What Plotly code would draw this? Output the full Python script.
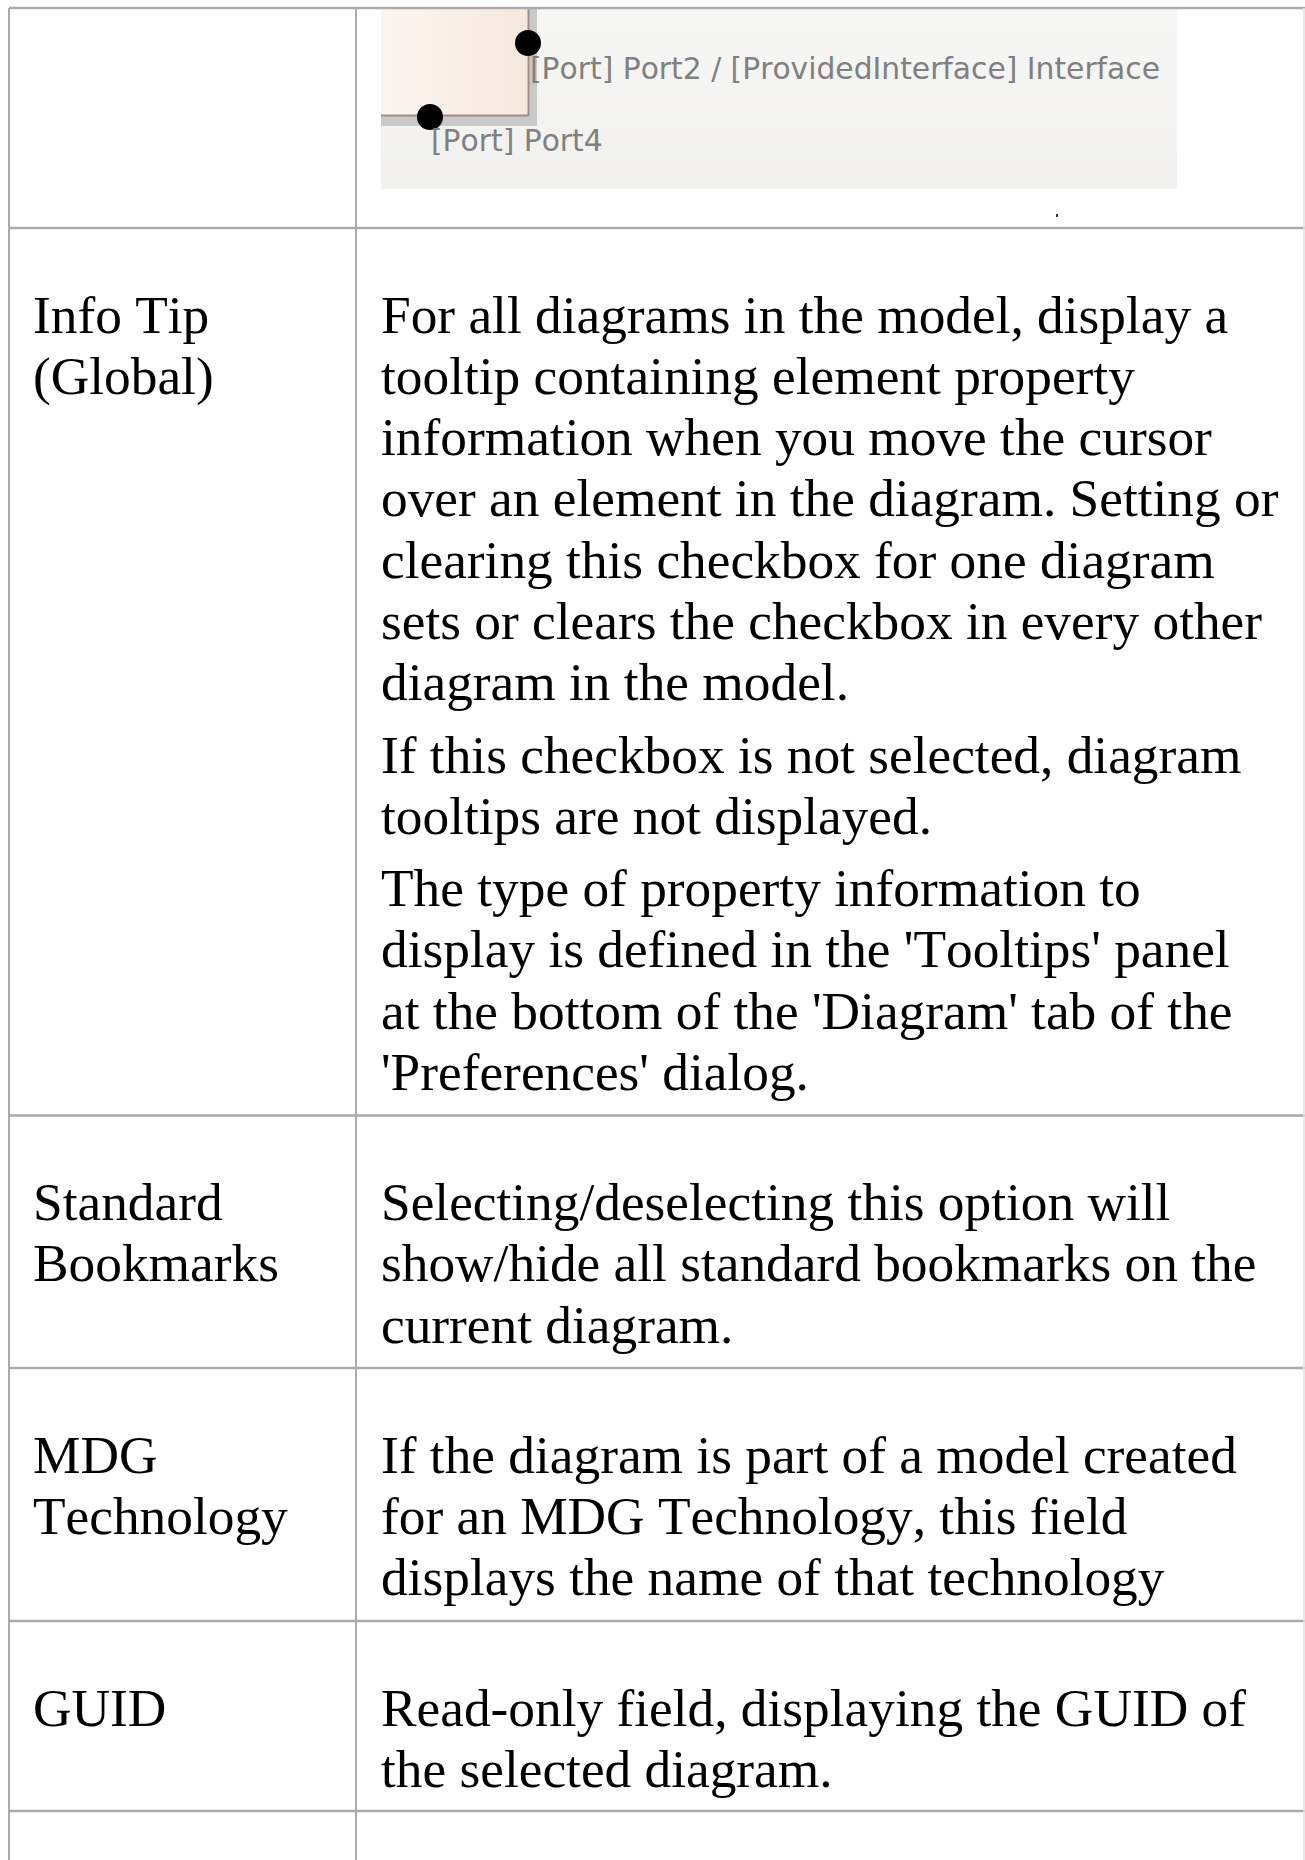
import plotly.graph_objects as go

W, H = 1305, 1860

row_labels = [
    [],
    ["Info Tip", "(Global)"],
    ["Standard", "Bookmarks"],
    ["MDG", "Technology"],
    ["GUID"],
    [],
]
row_paragraphs = [
    [],
    [
        ["For all diagrams in the model, display a",
         "tooltip containing element property",
         "information when you move the cursor",
         "over an element in the diagram. Setting or",
         "clearing this checkbox for one diagram",
         "sets or clears the checkbox in every other",
         "diagram in the model."],
        ["If this checkbox is not selected, diagram",
         "tooltips are not displayed."],
        ["The type of property information to",
         "display is defined in the 'Tooltips' panel",
         "at the bottom of the 'Diagram' tab of the",
         "'Preferences' dialog."],
    ],
    [["Selecting/deselecting this option will",
      "show/hide all standard bookmarks on the",
      "current diagram."]],
    [["If the diagram is part of a model created",
      "for an MDG Technology, this field",
      "displays the name of that technology"]],
    [["Read-only field, displaying the GUID of",
      "the selected diagram."]],
    [],
]
port_labels = ["[Port] Port2 / [ProvidedInterface] Interface", "[Port] Port4"]

# layout constants
ROW_TOPS = [8, 228, 1115.5, 1368, 1621, 1811]
LEFT_X, COL_X = 9, 356
TEXT_X1, TEXT_X2 = 33, 381
FIRST_OFFSET, PITCH, PARA_GAP = 86.5, 61.33, 10.7
GRID = "#ababab"
TXT_FONT = dict(family="Liberation Serif", size=53.33, color="#000000")

shapes, annotations = [], []


def rect(x0, y0, x1, y1, color):
    shapes.append(dict(type="rect", xref="x", yref="y", x0=x0, y0=y0, x1=x1, y1=y1,
                       fillcolor=color, line_width=0, layer="above"))


def line(x0, y0, x1, y1, w, color=GRID):
    shapes.append(dict(type="line", xref="x", yref="y", x0=x0, y0=y0, x1=x1, y1=y1,
                       line=dict(color=color, width=w), layer="above"))


def lerp(c0, c1, t):
    return "rgb(%d,%d,%d)" % tuple(round(a + (b - a) * t) for a, b in zip(c0, c1))


# embedded picture: background with faint vertical gradient
BG = (381, 8, 1177, 189)
STEP_Y = 15
for y0 in range(BG[1], BG[3], STEP_Y):
    rect(BG[0], y0, BG[2], min(y0 + STEP_Y + 1, BG[3]),
         lerp((246, 246, 245), (241, 240, 239), (y0 - BG[1]) / (BG[3] - BG[1])))
# shadow
rect(381, 8, 537, 126, "#c9c9c9")
# pink box with horizontal gradient
STEP_X = 7
for x0 in range(381, 528, STEP_X):
    rect(x0, 8, min(x0 + STEP_X + 1, 528), 115,
         lerp((251, 245, 241), (245, 232, 221), (x0 - 381) / 147))
line(381, 115.5, 528, 115.5, 2, "#a48b8b")
line(528.5, 8, 528.5, 116, 2, "#a48b8b")
# ports
for cx, cy in [(528, 43), (430, 117)]:
    shapes.append(dict(type="circle", xref="x", yref="y", x0=cx - 13, x1=cx + 13,
                       y0=cy - 13, y1=cy + 13, fillcolor="#000000", line_width=0, layer="above"))
rect(1056, 214, 1058, 217, "#333333")

# grid
for y in ROW_TOPS:
    line(LEFT_X, y, W, y, 2.5)
line(LEFT_X, 8, LEFT_X, H, 2)
line(COL_X, 8, COL_X, H, 2)
line(1304, 8, 1304, H, 1.5, "#e2e2e2")


def add_text(x, y, s, font):
    annotations.append(dict(x=x, y=y, xref="x", yref="y", text=s, showarrow=False,
                            xanchor="left", yanchor="middle", align="left", font=font,
                            borderpad=0, borderwidth=0))


for top, labels, paragraphs in zip(ROW_TOPS, row_labels, row_paragraphs):
    y = top + FIRST_OFFSET
    for i, s in enumerate(labels):
        add_text(TEXT_X1, y + i * PITCH, s, TXT_FONT)
    for para in paragraphs:
        for s in para:
            add_text(TEXT_X2, y, s, TXT_FONT)
            y += PITCH
        y += PARA_GAP

PORT_FONT = dict(family="DejaVu Sans", size=29.75, color="#808080")
add_text(530, 68, port_labels[0], PORT_FONT)
add_text(431, 140, port_labels[1], PORT_FONT)

fig = go.Figure()
fig.update_layout(
    width=W, height=H, margin=dict(l=0, r=0, t=0, b=0),
    paper_bgcolor="#ffffff", plot_bgcolor="#ffffff", showlegend=False,
    xaxis=dict(range=[0, W], visible=False, fixedrange=True),
    yaxis=dict(range=[H, 0], visible=False, fixedrange=True),
    shapes=shapes, annotations=annotations,
)
POST = """
document.body.style.margin='0';
document.documentElement.style.overflow='hidden';
var st=document.createElement('style');
st.textContent='svg text{font-kerning:none !important;text-rendering:optimizeSpeed !important;}';
document.head.appendChild(st);
"""
fig.write_html("out.html", config={"displayModeBar": False}, post_script=POST)
